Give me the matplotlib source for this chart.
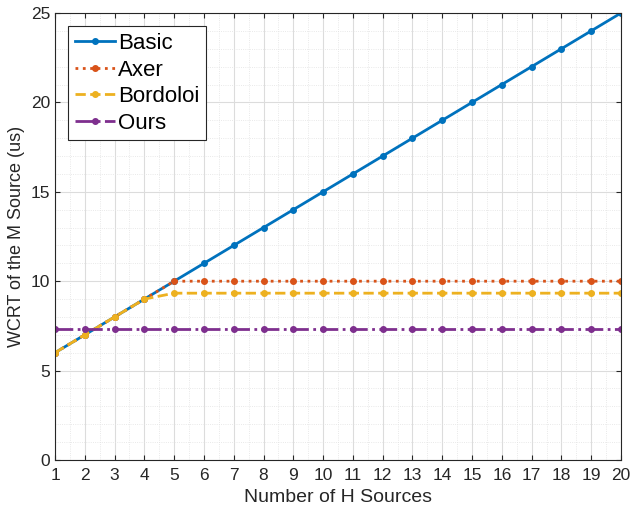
import numpy as np
import matplotlib
matplotlib.use('Agg')
import matplotlib.pyplot as plt
from matplotlib.ticker import MultipleLocator

plt.rcParams['font.family'] = ['Liberation Sans', 'DejaVu Sans']

# 数据
n_h = list(range(1, 21))
basic = [6, 7, 8, 9, 10, 11, 12, 13, 14, 15, 16, 17, 18, 19, 20, 21, 22, 23, 24, 25]
axer = [6, 7, 8, 9, 10, 10, 10, 10, 10, 10, 10, 10, 10, 10, 10, 10, 10, 10, 10, 10]
bordoloi = [6, 7, 8, 9, 9.33, 9.33, 9.33, 9.33, 9.33, 9.33, 9.33, 9.33, 9.33, 9.33,
            9.33, 9.33, 9.33, 9.33, 9.33, 9.33]
ours = [7.33] * 20

fig = plt.figure(figsize=(6.32, 5.12), dpi=100)
ax = fig.add_axes([55 / 632, 52 / 512, 566 / 632, 447 / 512])

ax.plot(n_h, basic, '-', color='#0072BD', lw=2, marker='.', ms=8, label='Basic')
ax.plot(n_h, axer, ':', color='#D95319', lw=2, marker='.', ms=8, label='Axer')
ax.plot(n_h, bordoloi, '--', color='#EDB120', lw=2, marker='.', ms=8, label='Bordoloi')
ax.plot(n_h, ours, '-.', color='#7E2F8E', lw=2, marker='.', ms=8, label='Ours')

ax.set_xlim(1, 20)
ax.set_ylim(0, 25)
ax.set_xticks(n_h)
ax.xaxis.set_minor_locator(MultipleLocator(0.5))
ax.yaxis.set_major_locator(MultipleLocator(5))
ax.yaxis.set_minor_locator(MultipleLocator(1))
ax.grid(which='major', color='#dcdcdc', lw=0.8)
ax.grid(which='minor', color='#e2e2e2', lw=0.6, ls=':')
ax.set_axisbelow(True)
ax.tick_params(which='both', direction='in', top=True, right=True, labelsize=12.5,
               color='#262626', labelcolor='#262626')
ax.tick_params(axis='x', pad=6)
ax.tick_params(which='minor', length=0)
for s in ax.spines.values():
    s.set_color('#262626')
    s.set_linewidth(0.8)

ax.set_xlabel('Number of H Sources', fontsize=14, color='#262626', labelpad=4)
ax.set_ylabel('WCRT of the M Source (us)', fontsize=13, color='#262626', labelpad=4)

leg = ax.legend(loc='upper left', fontsize=16, fancybox=False, framealpha=1,
                edgecolor='#262626', handlelength=1.8, handletextpad=0.15,
                labelspacing=0.25, borderpad=0.3, borderaxespad=0.6)
leg.get_frame().set_linewidth(0.8)

plt.savefig('out.png', dpi=100)
